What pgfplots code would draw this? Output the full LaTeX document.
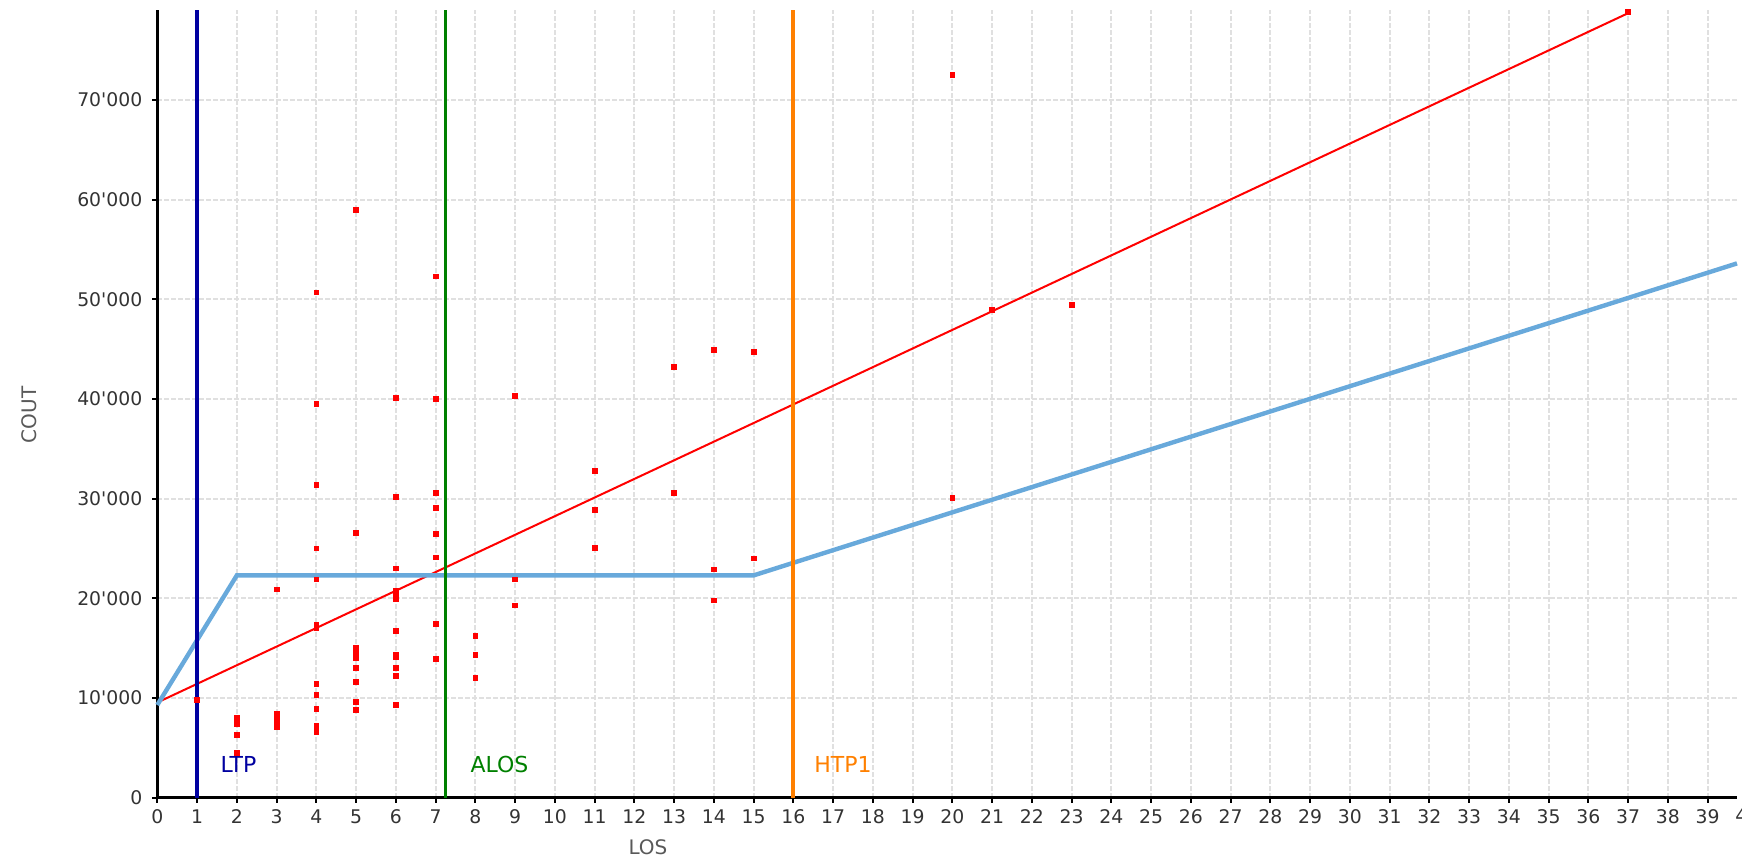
\documentclass[border=0pt]{standalone}
\usepackage{fontspec}
\setmainfont{DejaVu Sans}
\usepackage{pgfplots}
\pgfplotsset{compat=1.18}
\definecolor{ltpblue}{RGB}{0,0,160}
\definecolor{alosgreen}{RGB}{0,128,0}
\definecolor{htporange}{RGB}{255,128,0}
\definecolor{fitblue}{RGB}{104,169,219}
\definecolor{gridgray}{RGB}{224,224,224}
\begin{document}
\begin{tikzpicture}
\path[use as bounding box] (0,0) rectangle (871pt,429.5pt);
\begin{axis}[
  at={(78.65pt,30.65pt)}, anchor=south west,
  scale only axis, width=789.85pt, height=393.75pt,
  xmin=0, xmax=39.74, ymin=0, ymax=79000,
  axis x line*=bottom, axis y line*=left,
  axis line style={line width=1.4pt, black},
  xtick={0,...,39}, ytick={0,10000,...,70000},
  tick align=outside, major tick length=2.5pt,
  every tick/.style={black, line width=1pt},
  scaled y ticks=false,
  /pgf/number format/assume math mode=true,
  /pgf/number format/1000 sep={\textquotesingle},
  tick label style={font=\fontsize{9.4}{11}\selectfont, text=black!80},
  yticklabel style={xshift=-1.5pt},
  xticklabel style={yshift=0pt},
  grid=major,
  major grid style={gridgray, line width=1pt, dash pattern=on 2.5pt off 1pt},
  clip=false,
]
% regression line
\addplot[red, line width=1pt] coordinates {(0,9550) (37,78700)};
% piecewise blue line
\addplot[fitblue, line width=2.2pt] coordinates {(0,9300) (2,22300) (15,22300) (39.74,53600)};
% vertical markers
\addplot[ltpblue, line width=2pt] coordinates {(1,0) (1,79000)};
\addplot[alosgreen, line width=1.5pt] coordinates {(7.25,0) (7.25,79000)};
\addplot[htporange, line width=2pt] coordinates {(16,0) (16,79000)};
% scatter
\addplot[only marks, mark=square*, mark size=1.2pt, red, mark options={draw=none, fill=red}] coordinates {
(1,9800)
(2,8000) (2,7400) (2,6300) (2,4500)
(3,20900) (3,8400) (3,8000) (3,7700) (3,7100)
(4,50700) (4,39500) (4,31400) (4,25000) (4,21900) (4,17300) (4,17000) (4,11400) (4,10300) (4,8900) (4,7200) (4,6600)
(5,59000) (5,26600) (5,15000) (5,14500) (5,14000) (5,13000) (5,11600) (5,9600) (5,8800)
(6,40100) (6,30200) (6,23000) (6,20800) (6,20300) (6,19900) (6,16700) (6,14300) (6,14100) (6,13000) (6,12200) (6,9300)
(7,52300) (7,40000) (7,30600) (7,29100) (7,26500) (7,24100) (7,17400) (7,13900)
(8,16200) (8,14300) (8,12000)
(9,40300) (9,21900) (9,19300)
(11,32800) (11,28900) (11,25100)
(13,43200) (13,30600)
(14,44900) (14,22900) (14,19800)
(15,44700) (15,24000)
(20,72500) (20,30100)
(21,48900)
(23,49400)
(37,78800)
};
\node[anchor=west, inner sep=0pt, text=ltpblue, font=\fontsize{11}{13}\selectfont] at (axis cs:1.58,3300) {LTP};
\node[anchor=west, inner sep=0pt, text=alosgreen, font=\fontsize{11}{13}\selectfont] at (axis cs:7.87,3300) {ALOS};
\node[anchor=west, inner sep=0pt, text=htporange, font=\fontsize{11}{13}\selectfont] at (axis cs:16.52,3300) {HTP1};
\node[rotate=90, anchor=center, text=black!65, font=\fontsize{10}{12}\selectfont] at ([xshift=-64.15pt]rel axis cs:0,0.486) {COUT};
\node[anchor=center, text=black!65, font=\fontsize{10}{12}\selectfont] at ([yshift=-24.65pt]rel axis cs:0.3106,0) {LOS};
\node[anchor=north, text=black!80, font=\fontsize{9.4}{11}\selectfont, inner sep=0pt] at ([yshift=-5pt]axis cs:40,0) {40};
\end{axis}
\end{tikzpicture}
\end{document}
